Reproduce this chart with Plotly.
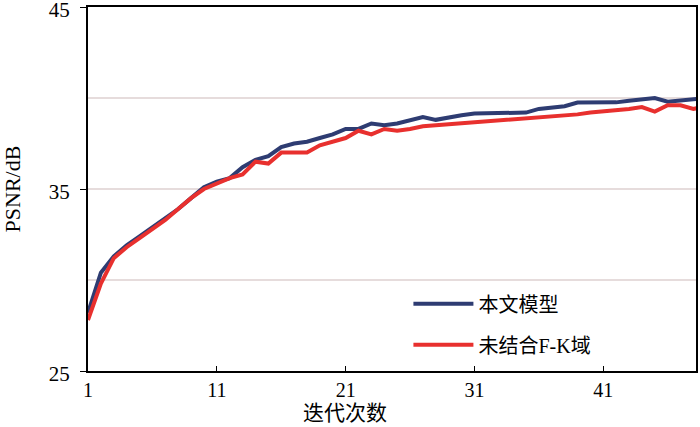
import plotly.graph_objects as go

iterations = list(range(1, 50))
ours = [28.2, 30.4, 31.3, 31.9, 32.4, 32.9, 33.4, 33.9, 34.5, 35.1,
        35.4, 35.6, 36.2, 36.6, 36.8, 37.3, 37.5, 37.6, 37.8, 38.0,
        38.3, 38.3, 38.6, 38.5, 38.6, 38.8, 38.95, 38.8, 38.95, 39.05,
        39.15, 39.15, 39.2, 39.2, 39.2, 39.4, 39.5, 39.55, 39.75, 39.75,
        39.75, 39.76, 39.85, 39.9, 40.0, 39.8, 39.85, 39.95, 40.0]
no_fk = [27.8, 29.8, 31.2, 31.8, 32.3, 32.8, 33.3, 33.9, 34.5, 35.0,
         35.3, 35.6, 35.8, 36.5, 36.4, 37.0, 37.0, 37.0, 37.4, 37.6,
         37.8, 38.2, 38.0, 38.3, 38.2, 38.3, 38.45, 38.5, 38.55, 38.6,
         38.65, 38.7, 38.75, 38.8, 38.85, 38.95, 39.0, 39.0, 39.1, 39.2,
         39.25, 39.35, 39.4, 39.5, 39.25, 39.6, 39.6, 39.4, 39.55]
series_names = ["本文模型", "未结合F-K域"]
x_ticks = [1, 11, 21, 31, 41]
y_ticks = [25, 35, 45]
y_grid = [30, 40]

FONT = "Liberation Serif, Noto Sans CJK SC"

fig = go.Figure()
fig.add_trace(go.Scatter(x=iterations, y=ours, mode="lines", name=series_names[0],
                         legendgroup="a",
                         line=dict(color="#2e3c72", width=4)))
fig.add_trace(go.Scatter(x=iterations, y=no_fk, mode="lines", name=series_names[1],
                         legendgroup="b",
                         line=dict(color="#e8302e", width=4)))

fig.update_layout(
    width=700, height=427,
    margin=dict(l=88, r=4, t=7, b=56, autoexpand=False),
    paper_bgcolor="white", plot_bgcolor="white",
    font=dict(family=FONT, size=20, color="black"),
    showlegend=True,
    legend=dict(x=0.527, y=0.238, xanchor="left", yanchor="top",
                bgcolor="rgba(0,0,0,0)", font=dict(size=20, family=FONT),
                tracegroupgap=12, itemwidth=60),
    annotations=[dict(text="迭代次数", x=(345 - 88) / 608, xref="paper",
                      y=-0.116, yref="paper", yanchor="middle",
                      showarrow=False, font=dict(size=21, family=FONT))],
)

fig.update_xaxes(range=[1, 48.2], tickvals=x_ticks, ticks="inside", ticklen=5,
                 tickcolor="black", showline=True, linecolor="black", linewidth=2,
                 mirror=True, showgrid=False, zeroline=False, automargin=False,
                 ticklabeloverflow="allow", ticklabelstandoff=0,
                 tickfont=dict(size=20, family=FONT))
fig.update_yaxes(range=[25, 45], tickvals=y_ticks, ticks="outside", ticklen=6,
                 tickcolor="black", showline=True, linecolor="black", linewidth=2,
                 mirror=True, showgrid=True, gridcolor="#e6dcdc", gridwidth=1.5,
                 zeroline=False, automargin=False, ticklabeloverflow="allow",
                 ticklabelstandoff=6, ticklabelshift=3,
                 tickfont=dict(size=21, family=FONT),
                 minor=dict(tickvals=y_grid, showgrid=True, gridcolor="#e6dcdc",
                            gridwidth=1.5, ticks=""),
                 title=dict(text="PSNR/dB", font=dict(size=22, family=FONT), standoff=22))

fig.write_html("out.html", config={"displayModeBar": False},
               post_script="document.body.style.margin='0';document.body.style.padding='0';")
